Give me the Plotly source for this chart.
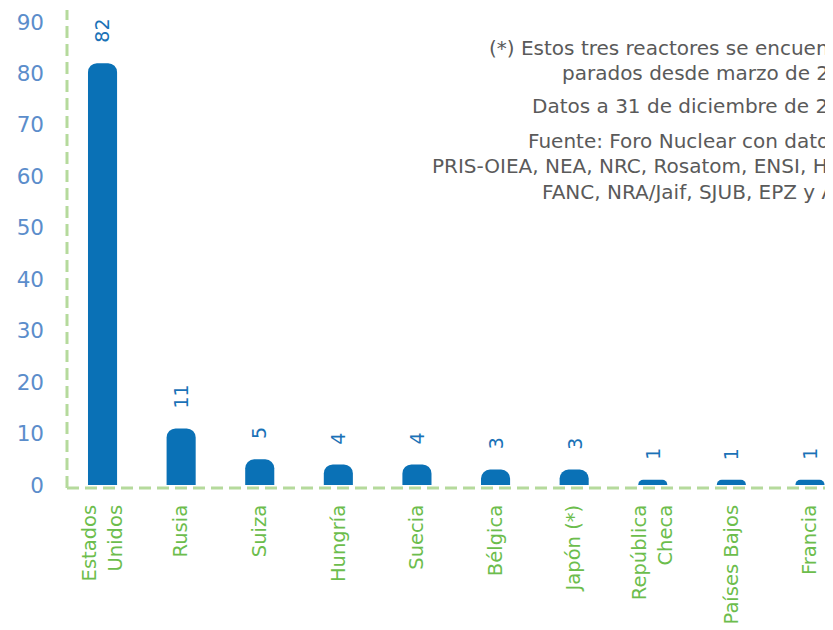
import plotly.graph_objects as go

categories = ["Estados<br>Unidos", "Rusia", "Suiza", "Hungría", "Suecia",
              "Bélgica", "Japón (*)", "República<br>Checa", "Países Bajos", "Francia"]
values = [82, 11, 5, 4, 4, 3, 3, 1, 1, 1]
y_ticks = [0, 10, 20, 30, 40, 50, 60, 70, 80, 90]

note_lines = [
    "(*) Estos tres reactores se encuentran",
    "parados desde marzo de 2011",
    "Datos a 31 de diciembre de 2017",
    "Fuente: Foro Nuclear con datos de",
    "PRIS-OIEA, NEA, NRC, Rosatom, ENSI, HAEA,",
    "FANC, NRA/Jaif, SJUB, EPZ y ASN",
]

FONT = "DejaVu Sans"
BAR = "#0a71b6"
GREEN_TXT = "#6cbd4c"
GREEN_AX = "#b5da9c"
TICK_BLUE = "#5b8dcb"

# The page body has an 8px margin, so the figure is drawn 8px right/down.
OFF = 8
W, H = 833 - OFF, 630 - OFF
PLOT_L, PLOT_T, PLOT_B = 67, 10, 488   # in screenshot pixels
ML, MR, MT = PLOT_L - OFF, 0, PLOT_T - OFF
MB = H - (PLOT_B - OFF)
PW, PH = W - ML - MR, H - MT - MB

fig = go.Figure()
fig.add_trace(go.Bar(
    x=list(range(len(categories))), y=values,
    marker=dict(color=BAR, cornerradius=9, line=dict(width=0)),
    width=0.37,
    hoverinfo="skip",
))

annotations = []
for i, v in enumerate(values):
    annotations.append(dict(
        x=i, y=v, xref="x", yref="y", text=str(v), showarrow=False,
        textangle=-90, yanchor="bottom", xanchor="center", yshift=18,
        font=dict(family=FONT, size=19, color="#1a72b7"),
    ))

def px_to_paper(px, py):
    return (px - PLOT_L) / PW, (PLOT_B - py) / PH

note_pos = [(487, 48), (560, 73), (530, 106), (526, 141), (430, 166), (540, 192)]
for txt, (px, py) in zip(note_lines, note_pos):
    xp, yp = px_to_paper(px, py)
    annotations.append(dict(
        x=xp, y=yp, xref="paper", yref="paper", text=txt, showarrow=False,
        xanchor="left", yanchor="middle",
        font=dict(family=FONT, size=20, color="#5a5a5a"),
    ))

shapes = [
    dict(type="line", xref="paper", yref="paper", x0=0, x1=0, y0=0, y1=1,
         line=dict(color=GREEN_AX, width=3, dash="12px,6px")),
    dict(type="line", xref="paper", yref="paper", x0=0, x1=1, y0=0, y1=0,
         line=dict(color=GREEN_AX, width=3, dash="12px,6px")),
]

fig.update_layout(
    width=W, height=H,
    margin=dict(l=ML, r=MR, t=MT, b=MB, pad=0),
    paper_bgcolor="white", plot_bgcolor="white",
    showlegend=False,
    annotations=annotations, shapes=shapes,
    xaxis=dict(
        range=[-0.452, 9.293],
        tickmode="array", tickvals=list(range(len(categories))), ticktext=categories,
        tickangle=-90, showgrid=False, zeroline=False, showline=False,
        tickfont=dict(family=FONT, size=19.5, color=GREEN_TXT),
        ticklabelstandoff=12,
    ),
    yaxis=dict(
        range=[-0.58, 92.33],
        tickmode="array", tickvals=y_ticks,
        showgrid=False, zeroline=False, showline=False,
        tickfont=dict(family=FONT, size=21.5, color=TICK_BLUE),
        ticklabelstandoff=22,
    ),
)

fig.write_html("out.html")
